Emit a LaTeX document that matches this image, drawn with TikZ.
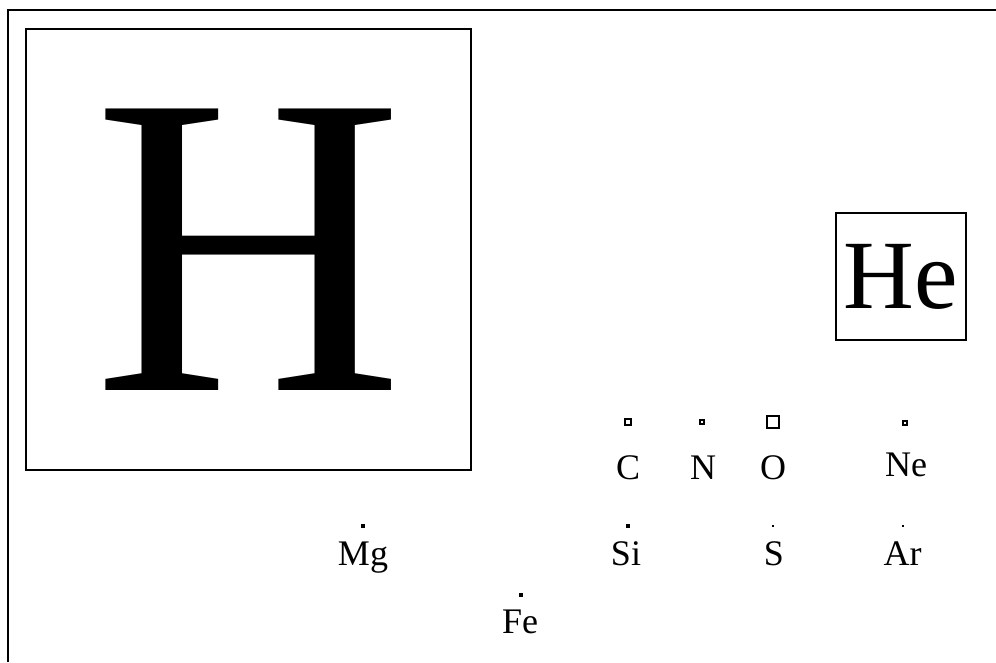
\documentclass[tikz,border=0pt]{standalone}
\usepackage{fontspec}
\setmainfont{Liberation Serif}
\usetikzlibrary{positioning}

\begin{document}
\begin{tikzpicture}[
    x=1pt, y=-1pt,
    elem/.style={anchor=base, inner sep=0pt, font=\fontsize{36}{36}\selectfont},
    bigbox/.style={draw, line width=1.8pt, inner sep=0pt, align=center},
    ring/.style={draw, line width=1.6pt, inner sep=0pt, outer sep=0pt},
    speck/.style={fill, inner sep=0pt, outer sep=0pt}
]
\useasboundingbox (0,0) rectangle (996,662);
\draw[line width=2pt] (8,662) -- (8,10) -- (996,10);

% the two large ones
\node[bigbox, minimum width=445pt, minimum height=441pt, font=\fontsize{430}{430}\selectfont] (hydrogen) at (248.5,249.5) {H};
\node[bigbox, line width=2pt, minimum width=130pt, minimum height=127pt, font=\fontsize{98}{98}\selectfont] (helium) at (901,276.5) {He};

% first row
\node[elem] (carbon) at (628,479) {C};
\node[elem] (nitrogen) at (703,479) {N};
\node[elem] (oxygen) at (773,479) {O};
\node[elem] (neon) at (906,476) {Ne};

\node[ring, minimum size=6pt] (cbox) at (628,422) {};
\node[ring, line width=1.4pt, minimum size=4pt] (nbox) at (702,422) {};
\node[ring, line width=1.9pt, minimum size=11.5pt] (obox) at (773,422) {};
\node[ring, minimum size=4.5pt] (nebox) at (905,423) {};

% second row
\node[elem] (magnesium) at (363,565) {Mg};
\node[elem] (silicon) at (626,565) {Si};
\node[elem] (sulfur) at (774,565) {S};
\node[elem] (argon) at (902.5,565) {Ar};
\node[elem] (iron) at (520,633) {Fe};

\node[speck, minimum size=3.6pt] (mgdot) at (363,526) {};
\node[speck, minimum size=3.6pt] (sidot) at (628,526) {};
\node[speck, minimum size=2.2pt] (sdot) at (773,526) {};
\node[speck, minimum size=2.4pt] (ardot) at (903,526) {};
\node[speck, minimum size=3.6pt] (fedot) at (521,595) {};

\end{tikzpicture}
\end{document}
